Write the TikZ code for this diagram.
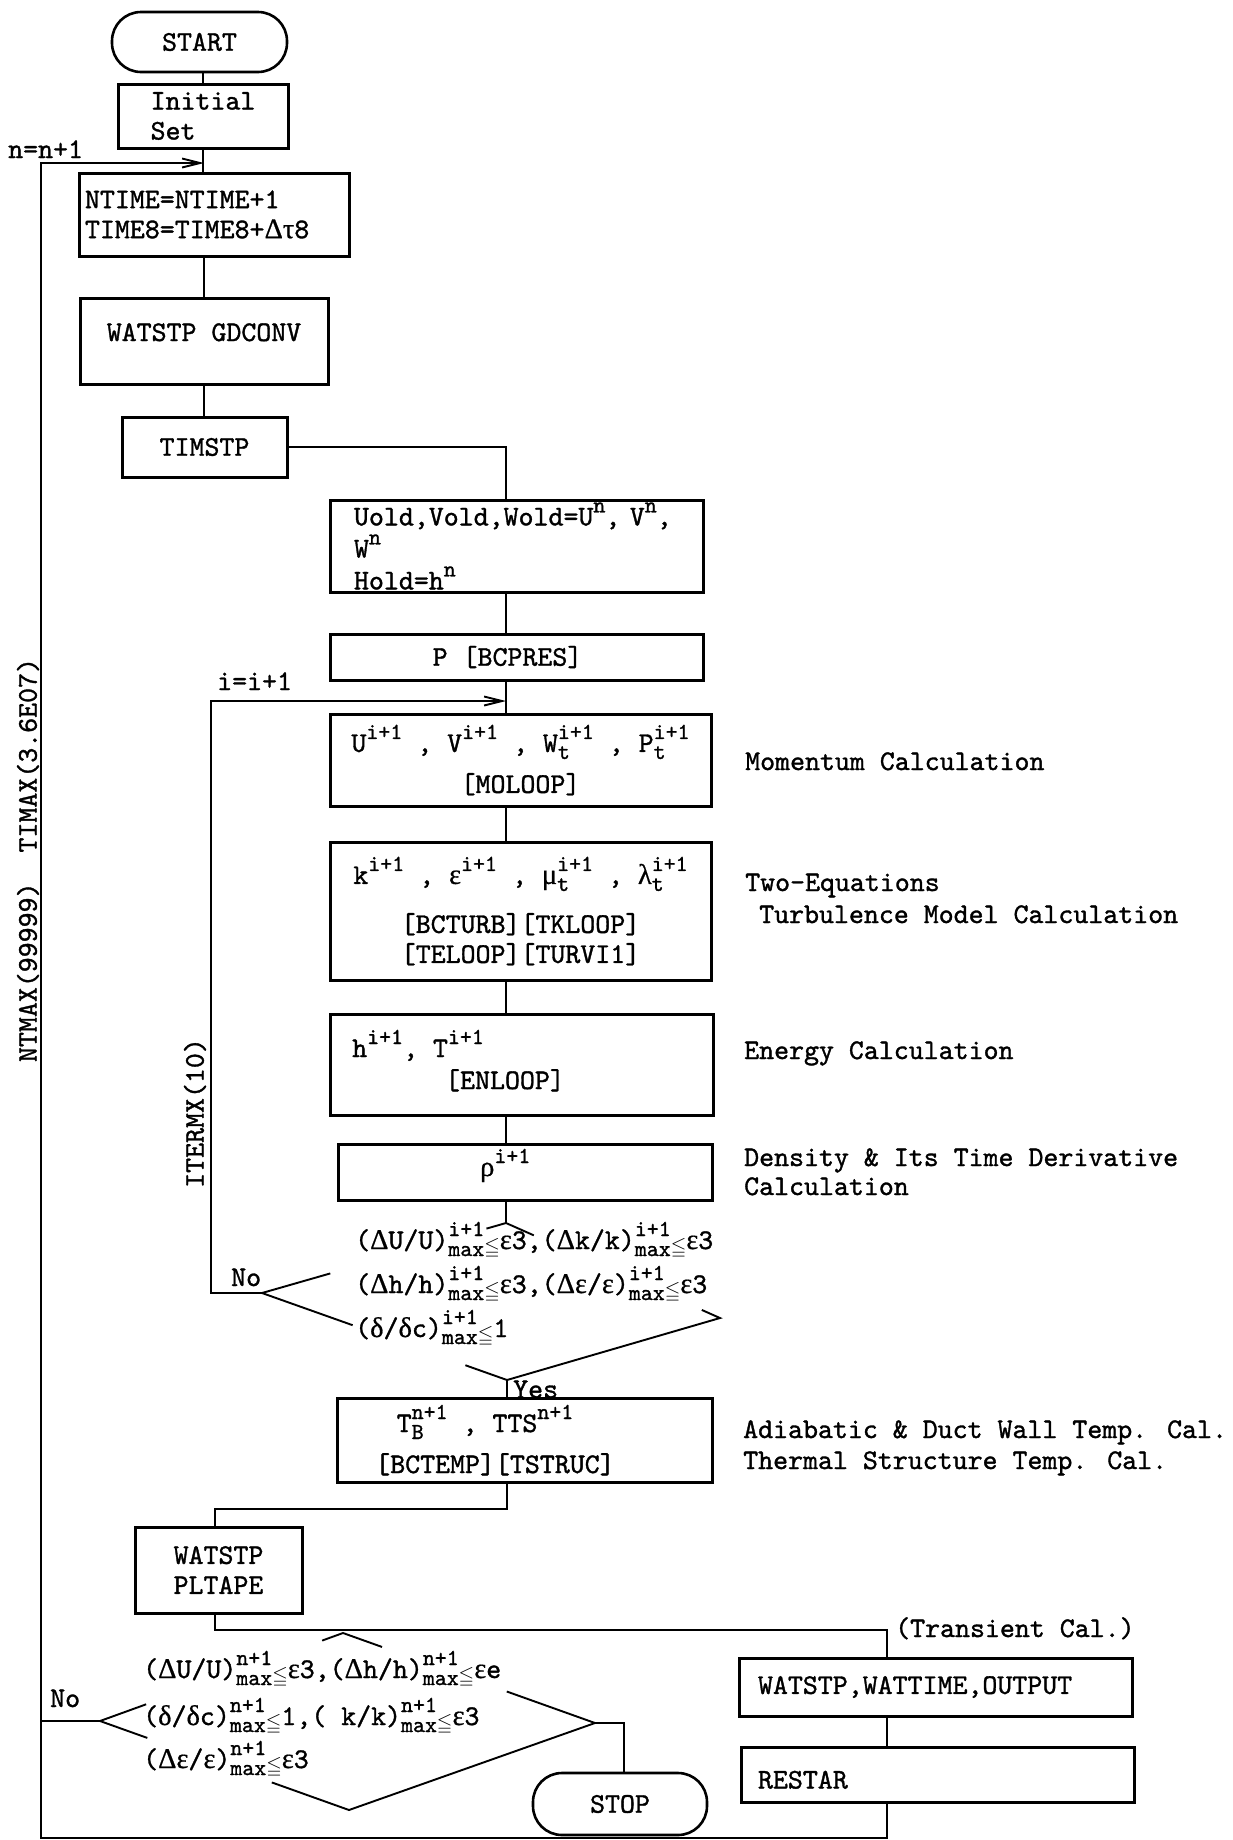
\documentclass[tikz,border=0pt]{standalone}
\usepackage{amssymb}
\usepackage{fontspec}
\setmainfont{lmmono10-regular}[Extension=.otf, FakeBold=1.2]
\newfontfamily\grk{Liberation Serif}[FakeBold=0.6]
\usetikzlibrary{arrows.meta,calc}
\newcommand\gD{{\grk Δ}}
\newcommand\gEp{{\grk ε}}
\newcommand\gTa{{\grk τ}}
\newcommand\gMu{{\grk μ}}
\newcommand\gLa{{\grk λ}}
\newcommand\gRh{{\grk ρ}}
\newcommand\gDe{{\grk δ}}
\newsavebox\SupBox
\newsavebox\SubBox
\newlength\SSw
\newcommand\scr{\fontsize{22.8}{22.8}\selectfont}
\newcommand\myUp[1]{\raisebox{13pt}{\scr #1}}
\newcommand\myUpDn[2]{%
  \sbox\SupBox{\scr #1}\sbox\SubBox{\scr #2}%
  \setlength\SSw{\wd\SupBox}%
  \ifdim\wd\SubBox>\SSw\setlength\SSw{\wd\SubBox}\fi
  \makebox[\SSw][l]{\rlap{\raisebox{13pt}{\usebox\SupBox}}\raisebox{-7pt}{\usebox\SubBox}}}
\newcommand\myLe{\raisebox{-4pt}{\fontsize{20}{20}\selectfont$\leqq$}}
\tikzset{
  ln/.style={line width=1.9pt},
  bx/.style={draw, line width=3pt, inner sep=0pt, font=\fontsize{28.5}{30}\selectfont},
  term/.style={draw, line width=2.6pt, rounded corners=29pt, inner sep=0pt, font=\fontsize{28.5}{30}\selectfont},
  tx/.style={inner sep=0pt, font=\fontsize{28.5}{30}\selectfont},
  arr/.style={ln, -{Straight Barb[length=18pt,width=9pt]}},
}
\begin{document}
\begin{tikzpicture}[x=1pt,y=-1pt]
\fill[white] (0,0) rectangle (1233,1840);
\useasboundingbox (0,0) rectangle (1233,1840);

% ---------- boxes ----------
\node[term, minimum width=175pt, minimum height=60pt] (start) at (199.5,42) {START};
\node[bx, minimum width=170pt, minimum height=64pt, align=left] (init) at (203,116) {Initial\\Set};
\node[bx, minimum width=270pt, minimum height=83pt, text width=258pt, align=left] (ntime) at (214,214.5) {NTIME=NTIME+1\\TIME8=TIME8+\gD\gTa 8};
\node[bx, minimum width=248pt, minimum height=86pt] (gdconv) at (204,341) {\raisebox{0pt}[0pt][0pt]{WATSTP GDCONV}};
\node[bx, minimum width=165pt, minimum height=60pt] (timstp) at (204.5,447) {TIMSTP};
\node[bx, minimum width=373pt, minimum height=92pt, text width=325pt, align=left, font=\fontsize{28.5}{32}\selectfont] (uold) at (516.5,546) {Uold,Vold,Wold=U\myUp{n}, V\myUp{n},\\W\myUp{n}\\Hold=h\myUp{n}};
\node[bx, minimum width=373pt, minimum height=46pt] (pres) at (516.5,657) {\hspace*{-18pt}P [BCPRES]};
\node[bx, minimum width=381pt, minimum height=92pt, align=center] (mom) at (520.5,760) {U\myUp{i+1} , V\myUp{i+1} , W\myUpDn{i+1}{t} , P\myUpDn{i+1}{t}\\[11pt]{}[MOLOOP]};
\node[bx, minimum width=381pt, minimum height=138pt, align=center] (twoeq) at (520.5,911) {k\myUp{i+1} , \gEp\myUp{i+1} , \gMu\myUpDn{i+1}{t} , \gLa\myUpDn{i+1}{t}\\[19pt]{}[BCTURB][TKLOOP]\\{}[TELOOP][TURVI1]};
\node[bx, minimum width=383pt, minimum height=101pt] (energy) at (521.5,1064.5) {};
\node[tx, anchor=base west] (energyA) at (352,1057) {h\myUp{i+1}, T\myUp{i+1}};
\node[tx, anchor=base] (energyB) at (505,1089) {[ENLOOP]};
\node[bx, minimum width=374pt, minimum height=56pt] (rho) at (525,1172) {};
\node[tx, anchor=base west] (rhoT) at (480,1176) {\gRh\myUp{i+1}};
\node[bx, minimum width=375pt, minimum height=84pt] (adia) at (524.5,1440) {};
\node[tx, anchor=base] (adiaA) at (485,1432) {T\myUpDn{n+1}{B} , TTS\myUp{n+1}};
\node[tx, anchor=base] (adiaB) at (495,1473) {[BCTEMP][TSTRUC]};
\node[bx, minimum width=167pt, minimum height=86pt, align=center] (pltape) at (218.5,1570) {WATSTP\\PLTAPE};
\node[bx, minimum width=393pt, minimum height=58pt, text width=355pt, align=left] (wattime) at (935.5,1687) {WATSTP,WATTIME,OUTPUT};
\node[bx, minimum width=393pt, minimum height=55pt, text width=359pt, align=left] (restar) at (937.5,1774.5) {\raisebox{-14pt}[0pt][0pt]{RESTAR}};
\node[term, minimum width=174pt, minimum height=62pt] (stop) at (620,1804) {STOP};

% ---------- decision 1 ----------
\coordinate (d1t) at (506,1223);
\coordinate (d1l) at (262,1293);
\coordinate (d1r) at (720,1318);
\coordinate (d1b) at (507,1380);
\draw[ln] ($(d1t)!0.08!(d1l)$) -- (d1t) -- ($(d1t)!0.13!(d1r)$);
\draw[ln] ($(d1l)!0.28!(d1t)$) -- (d1l) -- ($(d1l)!0.37!(d1b)$);
\draw[ln] ($(d1b)!0.17!(d1l)$) -- (d1b) -- (d1r) -- ($(d1r)!0.085!(d1t)$);
\node[tx, anchor=base west] (d1a) at (355,1249) {(\gD U/U)\myUpDn{i+1}{max}\myLe{}\gEp 3,(\gD k/k)\myUpDn{i+1}{max}\myLe{}\gEp 3};
\node[tx, anchor=base west] (d1bt) at (355,1293) {(\gD h/h)\myUpDn{i+1}{max}\myLe{}\gEp 3,(\gD\gEp/\gEp)\myUpDn{i+1}{max}\myLe{}\gEp 3};
\node[tx, anchor=base west] (d1c) at (355,1337) {(\gDe/\gDe c)\myUpDn{i+1}{max}\myLe{}1};
\node[tx, anchor=base west] (no1) at (231,1286) {No};
\node[tx, anchor=base west] (yes1) at (513,1398) {Yes};

% ---------- decision 2 ----------
\coordinate (d2t) at (343,1633);
\coordinate (d2l) at (100,1721);
\coordinate (d2r) at (595,1723);
\coordinate (d2b) at (349,1810);
\draw[ln] ($(d2t)!0.086!(d2l)$) -- (d2t) -- ($(d2t)!0.155!(d2r)$);
\draw[ln] ($(d2l)!0.19!(d2t)$) -- (d2l) -- ($(d2l)!0.19!(d2b)$);
\draw[ln] ($(d2b)!0.31!(d2l)$) -- (d2b) -- (d2r) -- ($(d2r)!0.35!(d2t)$);
\node[tx, anchor=base west] (d2a) at (143,1678) {(\gD U/U)\myUpDn{n+1}{max}\myLe{}\gEp 3,(\gD h/h)\myUpDn{n+1}{max}\myLe{}\gEp e};
\node[tx, anchor=base west] (d2bt) at (143,1725) {(\gDe/\gDe c)\myUpDn{n+1}{max}\myLe{}1,( k/k)\myUpDn{n+1}{max}\myLe{}\gEp 3};
\node[tx, anchor=base west] (d2c) at (143,1768) {(\gD\gEp/\gEp)\myUpDn{n+1}{max}\myLe{}\gEp 3};
\node[tx, anchor=base west] (no2) at (50,1707) {No};

% ---------- labels ----------
\node[tx, anchor=base west] (nlab) at (8,158) {n=n+1};
\node[tx, anchor=base west] (ilab) at (217,690) {i=i+1};
\node[tx, rotate=90] (ntmax) at (28,860) {NTMAX(99999)\ \ TIMAX(3.6E07)};
\node[tx, rotate=90] (itermx) at (195,1113) {ITERMX(10)};
\node[tx, anchor=base west] (lmom) at (745,770) {Momentum Calculation};
\node[tx, anchor=base west] (ltwoA) at (745,891) {Two-Equations};
\node[tx, anchor=base west] (ltwoB) at (759,923) {Turbulence Model Calculation};
\node[tx, anchor=base west] (lenergy) at (744,1059) {Energy Calculation};
\node[tx, anchor=base west] (ldensA) at (744,1166) {Density \& Its Time Derivative};
\node[tx, anchor=base west] (ldensB) at (744,1195) {Calculation};
\node[tx, anchor=base west] (ladiaA) at (743,1438) {Adiabatic \& Duct Wall Temp. Cal.};
\node[tx, anchor=base west] (ladiaB) at (743,1469) {Thermal Structure Temp. Cal.};
\node[tx, anchor=base west] (ltrans) at (895,1637) {(Transient Cal.)};

% ---------- connectors ----------
\coordinate (mx) at (204,0);
\coordinate (sx) at (506,0);
\draw[ln] (init.north) -- (init.north |- start.south);
\draw[ln] (init.south) -- (init.south |- ntime.north);
\draw[ln] (mx |- ntime.south) -- (mx |- gdconv.north);
\draw[ln] (mx |- gdconv.south) -- (mx |- timstp.north);
\draw[ln] (timstp.east) -- (timstp.east -| sx) -- (sx |- uold.north);
\draw[ln] (sx |- uold.south) -- (sx |- pres.north);
\draw[ln] (sx |- pres.south) -- (sx |- mom.north);
\draw[ln] (sx |- mom.south) -- (sx |- twoeq.north);
\draw[ln] (sx |- twoeq.south) -- (sx |- energy.north);
\draw[ln] (sx |- energy.south) -- (sx |- rho.north);
\draw[ln] (sx |- rho.south) -- (d1t);
\draw[ln] (d1b) -- (d1b |- adia.north);
\coordinate (j1) at (507,1509);
\coordinate (j2) at (215,1509);
\draw[ln] (j1 |- adia.south) -- (j1) -- (j2) -- (j2 |- pltape.north);
\coordinate (j3) at (215,1630);
\coordinate (j4) at (887,1630);
\draw[ln] (j3 |- pltape.south) -- (j3) -- (j4) -- (j4 |- wattime.north);
\draw[ln] (j4 |- wattime.south) -- (j4 |- restar.north);
\coordinate (j5) at (887,1838);
\coordinate (j6) at (41,1838);
\coordinate (j7) at (41,163);
\coordinate (j8) at (204,163);
\draw[arr] (j4 |- restar.south) -- (j5) -- (j6) -- (j7) -- (j8);
\draw[ln] (d2l) -- (d2l -| j6);
\coordinate (j9) at (624,1723);
\draw[ln] (d2r) -- (j9) -- (j9 |- stop.north);
\coordinate (k1) at (211,1293);
\coordinate (k2) at (211,701);
\draw[arr] (d1l) -- (k1) -- (k2) -- (k2 -| sx);
\end{tikzpicture}
\end{document}
